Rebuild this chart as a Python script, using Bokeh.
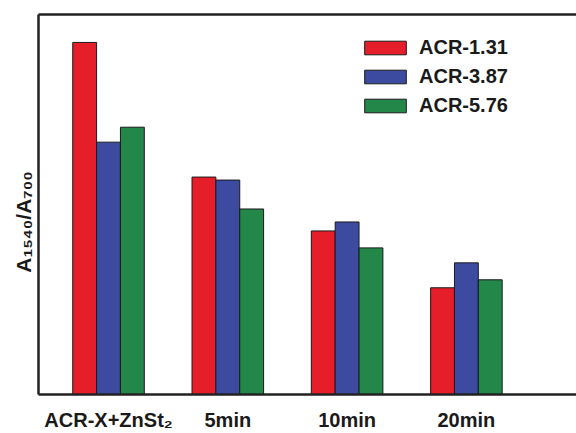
from bokeh.plotting import figure
from bokeh.models import Range1d, LinearAxis, FixedTicker, ColumnDataSource
from bokeh.embed import file_html
from bokeh.resources import INLINE

# ---- data (arbitrary units) ----
groups = ["ACR-X+ZnSt₂", "5min", "10min", "20min"]
series_names = ["ACR-1.31", "ACR-3.87", "ACR-5.76"]
acr_131 = [3.53, 2.18, 1.64, 1.07]
acr_387 = [2.53, 2.15, 1.73, 1.32]
acr_576 = [2.68, 1.86, 1.47, 1.15]
colors = ["#e61e2a", "#3c4ba0", "#23874a"]
y_title = "A₁₅₄₀/A₇₀₀"

FONT = "Liberation Sans"
INK = "#1a1a1a"

p = figure(width=576, height=433, output_backend="svg", toolbar_location=None,
           x_range=Range1d(0.413, 4.923), y_range=Range1d(0, 3.81),
           min_border_left=38, min_border_right=0, min_border_top=14, min_border_bottom=38)
p.outline_line_color = None
p.grid.visible = False
p.background_fill_color = "white"
p.border_fill_color = "white"

xs = [1, 2, 3, 4]

xa = p.xaxis[0]
xa.ticker = FixedTicker(ticks=xs)
xa.major_label_overrides = {x: g for x, g in zip(xs, groups)}
xa.major_label_text_font = FONT
xa.major_label_text_font_style = "bold"
xa.major_label_text_font_size = "20px"
xa.major_label_text_color = INK
xa.major_label_standoff = 14

ya = p.yaxis[0]
ya.ticker = FixedTicker(ticks=[])
ya.major_label_text_font_size = "0px"
# trailing no-break spaces nudge the centred title down, as in the original
ya.axis_label = y_title + "\u00a0" * 6
ya.axis_label_text_font = FONT
ya.axis_label_text_font_style = "bold"
ya.axis_label_text_font_size = "21px"
ya.axis_label_text_color = INK
ya.axis_label_standoff = 4

for ax in (xa, ya):
    ax.axis_line_width = 2.5
    ax.axis_line_color = "#222222"
    ax.major_tick_line_color = None
    ax.minor_tick_line_color = None
    ax.major_tick_out = 0
    ax.major_tick_in = 0

top = LinearAxis(ticker=FixedTicker(ticks=[]), axis_line_width=2.5, axis_line_color="#222222",
                 major_tick_line_color=None, minor_tick_line_color=None,
                 major_tick_out=0, major_label_text_font_size="0px")
p.add_layout(top, "above")

offsets = [-0.2, 0.0, 0.2]
for vals, name, col, off in zip([acr_131, acr_387, acr_576], series_names, colors, offsets):
    src = ColumnDataSource(dict(x=[x + off for x in xs], top=vals))
    p.vbar(x="x", top="top", width=0.2, source=src, fill_color=col,
           line_color=INK, line_width=1, legend_label=name)

lg = p.legend[0]
lg.location = (321, 277)
lg.border_line_color = None
lg.background_fill_alpha = 0
lg.padding = 0
lg.margin = 0
lg.glyph_width = 52
lg.glyph_height = 17
lg.label_height = 17
lg.spacing = 6
lg.label_standoff = 8
lg.label_text_font = FONT
lg.label_text_font_style = "bold"
lg.label_text_font_size = "20px"
lg.label_text_color = INK

open("out.html", "w").write(file_html(p, INLINE))
